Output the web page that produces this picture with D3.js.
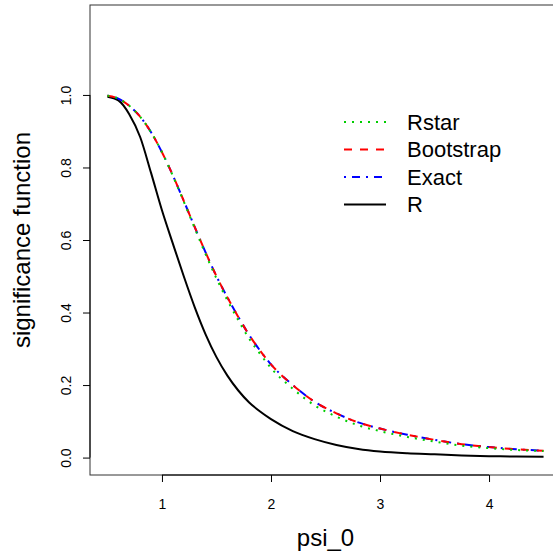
<!DOCTYPE html>
<html>
<head>
<meta charset="utf-8">
<script src="https://cdn.jsdelivr.net/npm/d3@7"></script>
<style>
body { margin: 0; background: #fff; }
svg { display: block; font-family: "Liberation Sans", Arial, sans-serif; }
.axis text { font-size: 14px; fill: #000; }
.axis line, .axis path { stroke: #000; }
</style>
</head>
<body>
<svg class="chart"></svg>
<script>
// psi_0 grid and curve values
var psi = [0.5, 0.6, 0.7, 0.8, 0.9, 1.0, 1.1, 1.2, 1.3, 1.4, 1.5, 1.6, 1.7, 1.8, 1.9, 2.0, 2.2, 2.4, 2.6, 2.8, 3.0, 3.25, 3.5, 3.75, 4.0, 4.25, 4.5];
var rValues = [0.995, 0.985, 0.947, 0.884, 0.785, 0.682, 0.59, 0.50, 0.415, 0.34, 0.277, 0.226, 0.185, 0.152, 0.127, 0.106, 0.073, 0.051, 0.035, 0.024, 0.017, 0.012, 0.009, 0.006, 0.004, 0.003, 0.002];
var bootValues = [0.998, 0.990, 0.970, 0.940, 0.897, 0.842, 0.778, 0.708, 0.636, 0.566, 0.500, 0.442, 0.388, 0.338, 0.295, 0.257, 0.200, 0.154, 0.122, 0.097, 0.080, 0.063, 0.049, 0.037, 0.029, 0.023, 0.019];
var exactValues = [0.998, 0.990, 0.970, 0.940, 0.897, 0.842, 0.778, 0.708, 0.636, 0.566, 0.500, 0.442, 0.388, 0.338, 0.295, 0.257, 0.200, 0.154, 0.122, 0.097, 0.080, 0.063, 0.049, 0.037, 0.029, 0.023, 0.019];
var rstarValues = [0.998, 0.990, 0.970, 0.940, 0.897, 0.842, 0.777, 0.706, 0.633, 0.561, 0.494, 0.434, 0.379, 0.328, 0.286, 0.247, 0.190, 0.144, 0.113, 0.089, 0.073, 0.057, 0.044, 0.033, 0.026, 0.021, 0.018];
var xTicks = [1, 2, 3, 4];
var yTicks = [0, 0.2, 0.4, 0.6, 0.8, 1.0];
var legendLabels = ["Rstar", "Bootstrap", "Exact", "R"];

var width = 553, height = 556;
var plot = {left: 90, top: 5, right: 561, bottom: 475};

var svg = d3.select(".chart")
	.attr("width", width)
	.attr("height", height);

var x = d3.scaleLinear()
	.domain([0.34, 4.66])
	.range([plot.left, plot.right]);

var y = d3.scaleLinear()
	.domain([-0.048, 1.248])
	.range([plot.bottom, plot.top]);

var series = [
	{name: "R", values: rValues, color: "#000", dash: null},
	{name: "Exact", values: exactValues, color: "#0000ff", dash: "2,6,8,6"},
	{name: "Bootstrap", values: bootValues, color: "#ff0000", dash: "8,8"},
	{name: "Rstar", values: rstarValues, color: "#00cd00", dash: "2,6"}
];

var line = d3.line()
	.curve(d3.curveMonotoneX)
	.x((d, i) => x(psi[i]))
	.y(d => y(d));

svg.selectAll(".curve")
	.data(series)
	.enter()
	.append("path")
	.attr("class", "curve")
	.attr("fill", "none")
	.attr("stroke", d => d.color)
	.attr("stroke-width", 2)
	.attr("stroke-dasharray", d => d.dash)
	.attr("d", d => line(d.values));

// box
svg.append("rect")
	.attr("x", plot.left)
	.attr("y", plot.top)
	.attr("width", plot.right - plot.left)
	.attr("height", plot.bottom - plot.top)
	.attr("fill", "none")
	.attr("stroke", "#333")
	.attr("stroke-width", 1);

var xAxis = d3.axisBottom(x).tickValues(xTicks).tickSize(7).tickPadding(17).tickFormat(d3.format("d"));
var yAxis = d3.axisLeft(y).tickValues(yTicks).tickSize(7).tickFormat(d3.format(".1f"));

var gx = svg.append("g")
	.attr("class", "axis")
	.attr("transform", "translate(0," + plot.bottom + ")")
	.call(xAxis);
gx.select(".domain").attr("d", "M" + x(1) + ",0H" + x(4));

var gy = svg.append("g")
	.attr("class", "axis")
	.attr("transform", "translate(" + plot.left + ",0)")
	.call(yAxis);
gy.select(".domain").attr("d", "M0," + y(0) + "V" + y(1));
gy.selectAll(".tick text")
	.attr("x", null)
	.attr("dy", null)
	.attr("text-anchor", "middle")
	.attr("transform", "translate(-19,0) rotate(-90)")
	.attr("y", 0);

svg.append("text")
	.attr("x", (plot.left + plot.right) / 2)
	.attr("y", 546)
	.attr("text-anchor", "middle")
	.style("font-size", "24px")
	.text("psi_0");

svg.append("text")
	.attr("transform", "translate(30," + (plot.top + plot.bottom) / 2 + ") rotate(-90)")
	.attr("text-anchor", "middle")
	.style("font-size", "24px")
	.text("significance function");

// legend
var legendStyle = [series[3], series[2], series[1], series[0]];
var legend = svg.selectAll(".legend")
	.data(legendLabels)
	.enter()
	.append("g")
	.attr("class", "legend")
	.attr("transform", (d, i) => "translate(344," + (122 + i * 27.5) + ")");

legend.append("line")
	.attr("x1", 0)
	.attr("x2", 42)
	.attr("stroke", (d, i) => legendStyle[i].color)
	.attr("stroke-width", 2)
	.attr("stroke-dasharray", (d, i) => legendStyle[i].dash);

legend.append("text")
	.attr("x", 63)
	.attr("dy", "0.36em")
	.style("font-size", "22px")
	.text(d => d);
</script>
</body>
</html>
